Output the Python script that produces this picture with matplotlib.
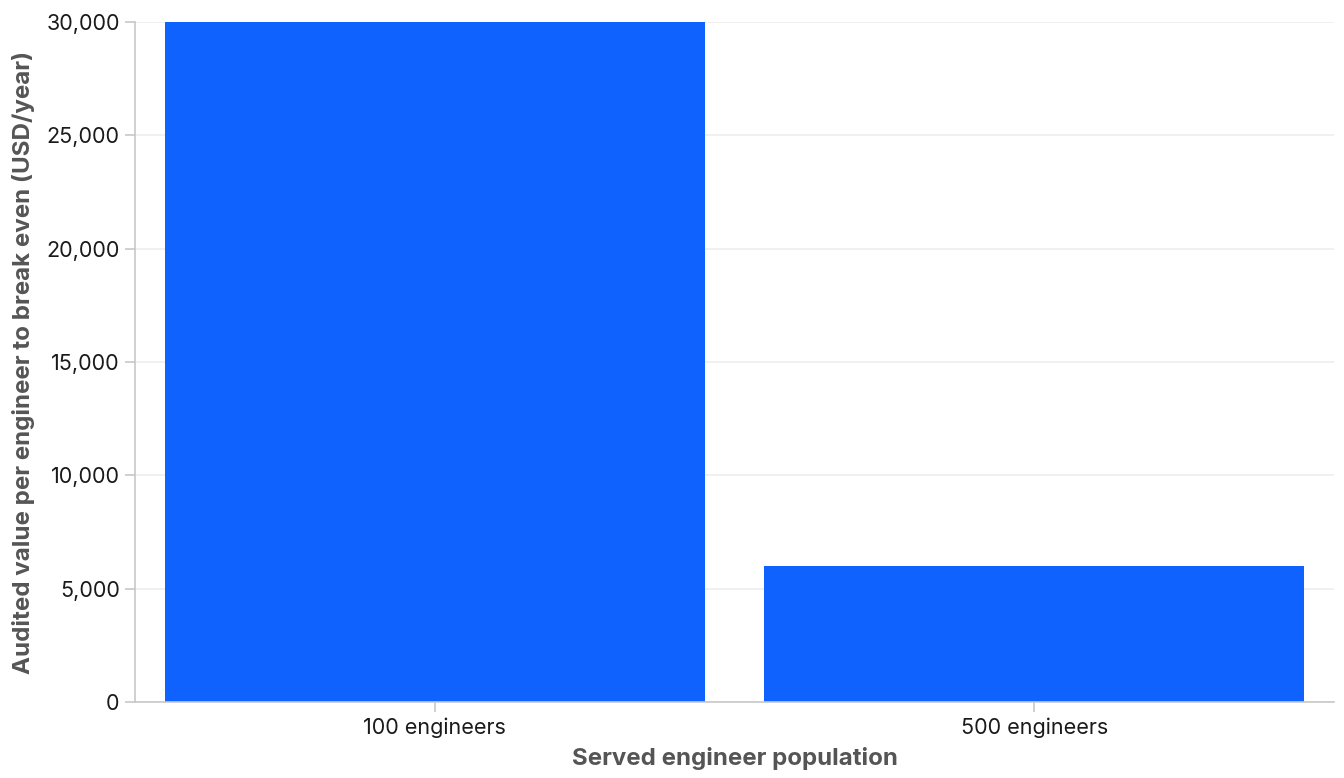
import matplotlib.pyplot as plt
from matplotlib.ticker import FuncFormatter

categories = ["100 engineers", "500 engineers"]
breakeven_values = [30000, 6000]
y_ticks = [0, 5000, 10000, 15000, 20000, 25000, 30000]

plt.rcParams["font.family"] = ["Inter", "DejaVu Sans"]

fig = plt.figure(figsize=(13.44, 7.78), dpi=100)
ax = fig.add_axes([135 / 1344, 1 - 702 / 778, 1199 / 1344, 680 / 778])

x = range(len(categories))
ax.bar(x, breakeven_values, width=0.9, color="#0f62fe", zorder=2)
ax.set_xlim(-0.5, len(categories) - 0.5)
ax.set_ylim(0, 30000)
ax.set_xticks(list(x))
ax.set_xticklabels(categories)
ax.set_yticks(y_ticks)
ax.yaxis.set_major_formatter(FuncFormatter(lambda v, _: f"{int(v):,}"))

for side in ["top", "right"]:
    ax.spines[side].set_visible(False)
for side in ["left", "bottom"]:
    ax.spines[side].set_color("#c8c8c8")
    ax.spines[side].set_linewidth(1.2)
ax.tick_params(axis="both", colors="#c8c8c8", length=7, width=1.2, labelsize=15.5, labelcolor="#1a1a1a", pad=4)
ax.grid(axis="y", color="#ededed", linewidth=1.2, zorder=0)
ax.set_axisbelow(True)

ax.set_xlabel("Served engineer population", fontsize=17.3, fontweight="bold", color="#555555", labelpad=7)
ax.set_ylabel("Audited value per engineer to break even (USD/year)", fontsize=17.4, fontweight="bold",
              color="#555555", labelpad=8)

fig.savefig("out.png", dpi=100)
